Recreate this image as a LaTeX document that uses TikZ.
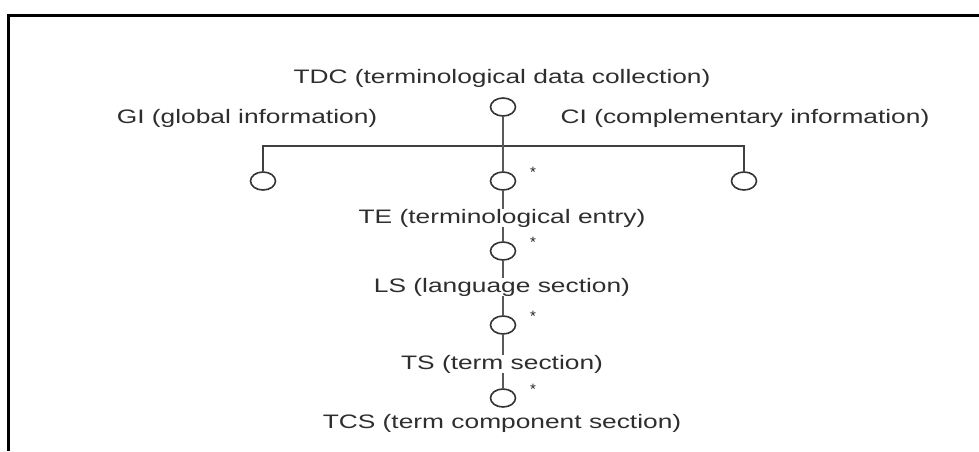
\documentclass[tikz,border=0pt]{standalone}
\usepackage{fontspec}
\usepackage{graphicx}
\setmainfont{Liberation Sans}
\usetikzlibrary{shapes.geometric}
% labels are set a little wider than the font's natural width
\newcommand{\wide}[1]{\scalebox{1.35}[1]{#1}}
\begin{document}
\begin{tikzpicture}[x=1pt,y=-1pt,
  lbl/.style={inner sep=0pt, text=black!82, font=\fontsize{19.5}{23}\selectfont},
  ring/.style={ellipse, draw=black!80, line width=1.6pt, minimum width=25pt,
               minimum height=18pt, inner sep=0pt},
  link/.style={draw=black!65, line width=2pt},
  bar/.style={draw=black!75, line width=1.5pt},
  starmark/.style={inner sep=0pt, text=black!85, font=\fontsize{15}{16}\selectfont}]
\useasboundingbox (0,0) rectangle (979,451);

% frame
\draw[line width=3pt, line join=miter] (8,451) -- (8,15) -- (979,15);

% labels
\node[lbl] (tdc) at (502,78)  {\wide{TDC (terminological data collection)}};
\node[lbl] (gi)  at (247,118) {\wide{GI (global information)}};
\node[lbl] (ci)  at (745,118) {\wide{CI (complementary information)}};
\node[lbl] (te)  at (502,218) {\wide{TE (terminological entry)}};
\node[lbl] (ls)  at (502,287) {\wide{LS (language section)}};
\node[lbl] (ts)  at (502,364) {\wide{TS (term section)}};
\node[lbl] (tcs) at (502,423) {\wide{TCS (term component section)}};

% connection symbols
\node[ring] (o0)   at (503,107) {};
\node[ring] (oGI)  at (263,181) {};
\node[ring] (oTE)  at (503,181) {};
\node[ring] (oCI)  at (744,181) {};
\node[ring] (oLS)  at (503,251) {};
\node[ring] (oTS)  at (503,325) {};
\node[ring] (oTCS) at (503,398) {};

% repetition marks
\node[starmark] (sTE)  at (533,172) {*};
\node[starmark] (sLS)  at (533,242) {*};
\node[starmark] (sTS)  at (533,316) {*};
\node[starmark] (sTCS) at (533,389) {*};

% branch bar
\coordinate (jn) at (503,146);
\draw[bar] (oGI.north) |- (jn) -| (oCI.north);

% main spine
\draw[link] (o0.south) -- (oTE.north);
\draw[link] (oTE.south) -- (te.north -| oTE);
\draw[link] (te.south -| oLS) -- (oLS.north);
\draw[link] (oLS.south) -- (ls.north -| oLS);
\draw[link] (ls.south -| oTS) -- (oTS.north);
\draw[link] (oTS.south) -- (ts.north -| oTS);
\draw[link] (ts.south -| oTCS) -- (oTCS.north);
\end{tikzpicture}
\end{document}
